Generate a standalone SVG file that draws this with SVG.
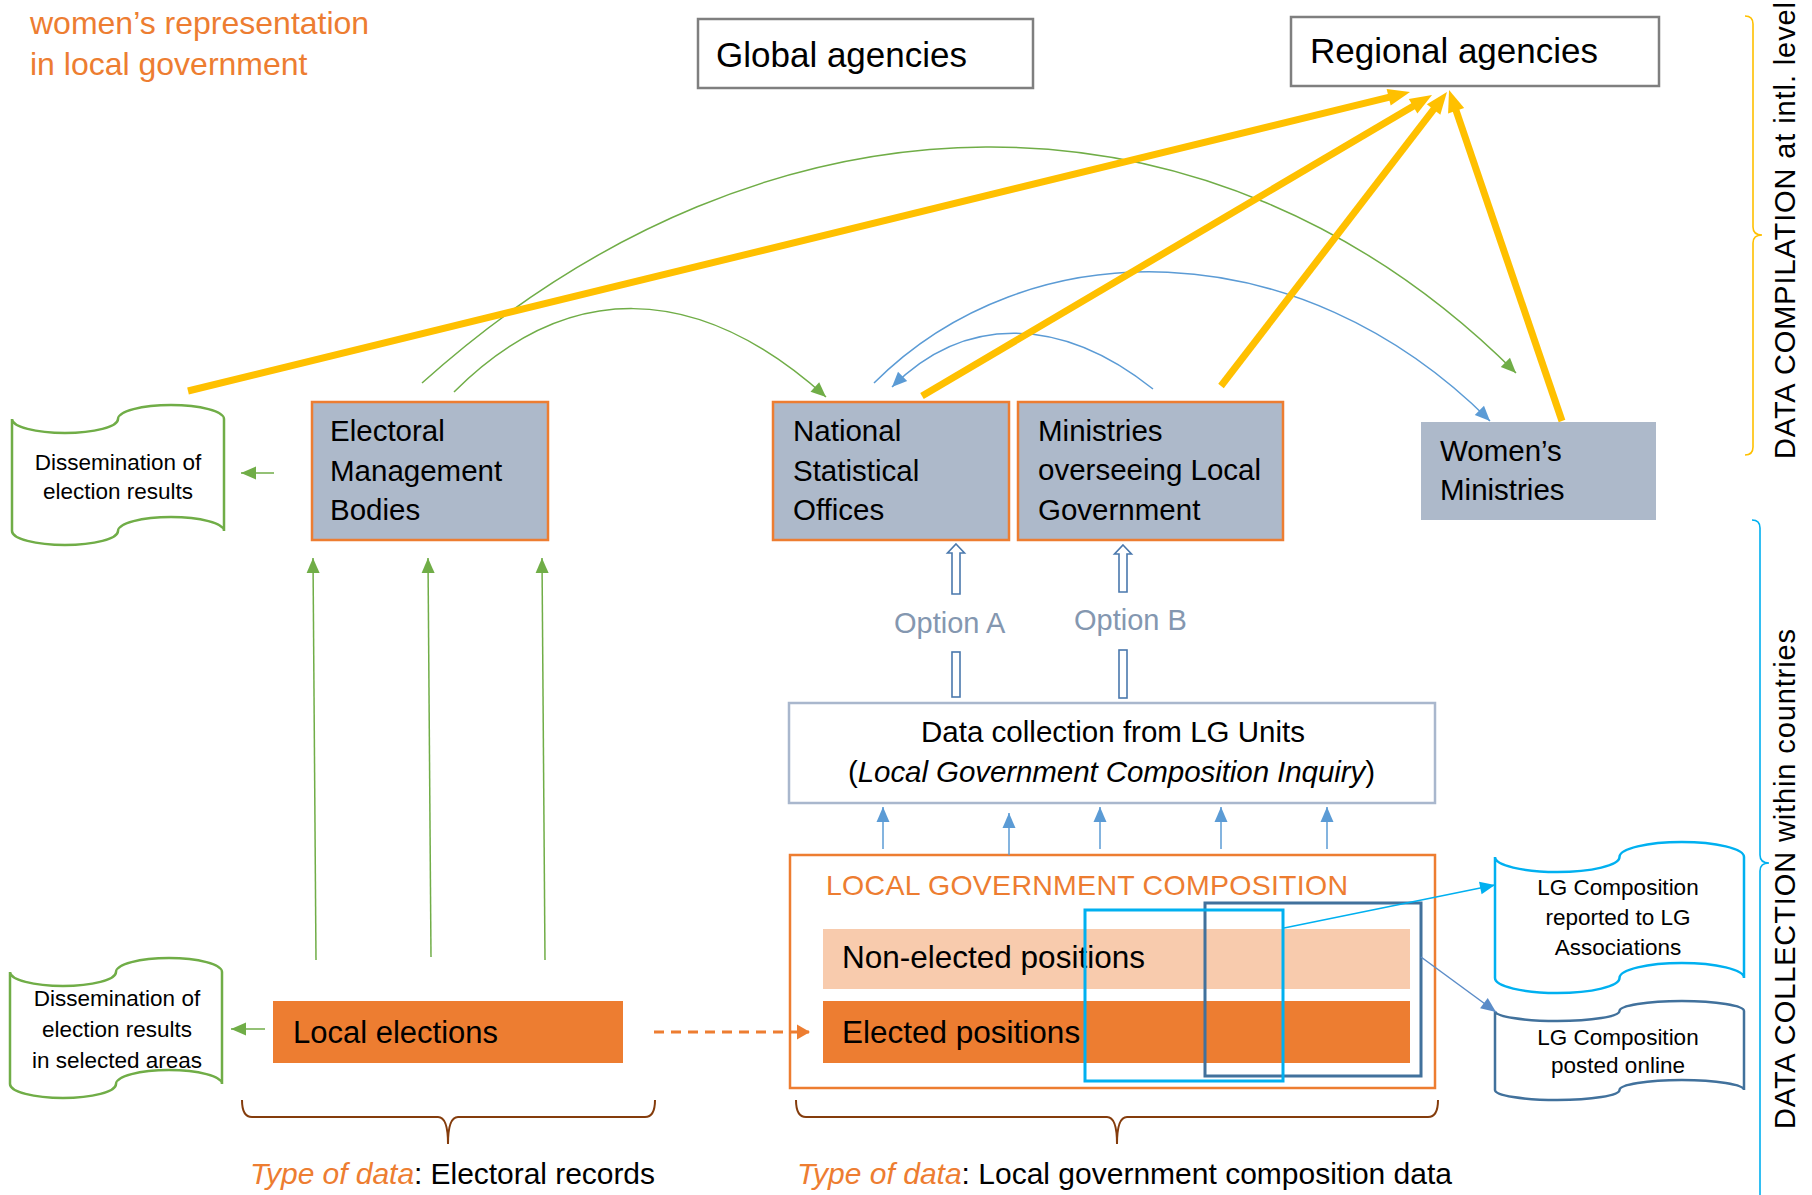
<svg xmlns="http://www.w3.org/2000/svg" width="1812" height="1195" viewBox="0 0 1812 1195">
<style>
text{font-family:"Liberation Sans",Arial,sans-serif;fill:#000}
.org{fill:#ED7D31}
.box{fill:#ADB9CA;stroke:#ED7D31;stroke-width:2.5}
.agency{fill:#fff;stroke:#7F7F7F;stroke-width:2.5}
.bt{font-size:29.5px}
.doc{font-size:22.5px;text-anchor:middle}
.g{stroke:#70AD47;stroke-width:1.5;fill:none}
.b{stroke:#5B9BD5;stroke-width:1.5;fill:none}
.y{stroke:#FFC000;stroke-width:7;fill:none}
.dbl{fill:#fff;stroke:#4A78AD;stroke-width:1.6}
.brace{fill:none;stroke:#843C0C;stroke-width:2}
.opt{font-size:29px;fill:#8497B0}
</style>
<defs>
<marker id="mY" markerUnits="userSpaceOnUse" markerWidth="24" markerHeight="18" refX="2" refY="8.5" orient="auto" overflow="visible"><path d="M0,0 L22,8.5 L0,17 Z" fill="#FFC000"/></marker>
<marker id="mG" markerUnits="userSpaceOnUse" markerWidth="16" markerHeight="14" refX="15" refY="6.5" orient="auto" overflow="visible"><path d="M0,0 L15,6.5 L0,13 Z" fill="#70AD47"/></marker>
<marker id="mB" markerUnits="userSpaceOnUse" markerWidth="16" markerHeight="14" refX="15" refY="6.5" orient="auto" overflow="visible"><path d="M0,0 L15,6.5 L0,13 Z" fill="#5B9BD5"/></marker>
<marker id="mC" markerUnits="userSpaceOnUse" markerWidth="16" markerHeight="14" refX="15" refY="6.5" orient="auto" overflow="visible"><path d="M0,0 L15,6.5 L0,13 Z" fill="#00B0F0"/></marker>
<marker id="mD" markerUnits="userSpaceOnUse" markerWidth="16" markerHeight="14" refX="15" refY="6.5" orient="auto" overflow="visible"><path d="M0,0 L15,6.5 L0,13 Z" fill="#5B8CC8"/></marker>
<marker id="mO" markerUnits="userSpaceOnUse" markerWidth="14" markerHeight="16" refX="12" refY="7.5" orient="auto" overflow="visible"><path d="M0,0 L13,7.5 L0,15 Z" fill="#ED7D31"/></marker>
</defs>

<g id="title">
<text class="org" x="30" y="34" font-size="32">women’s representation</text>
<text class="org" x="30" y="75" font-size="32">in local government</text>
</g>

<g id="global-agencies">
<rect class="agency" x="698" y="19" width="335" height="69"/>
<text x="716" y="67" font-size="35">Global agencies</text>
</g>
<g id="regional-agencies">
<rect class="agency" x="1291" y="17" width="368" height="69"/>
<text x="1310" y="63" font-size="35">Regional agencies</text>
</g>

<g id="option-labels">
<text class="opt" x="894" y="633">Option A</text>
<text class="opt" x="1074" y="630">Option B</text>
</g>

<g id="dissemination-top">
<path d="M12,419 A53,14 0 0 0 118,419 A53,14 0 0 1 224,419 L224,531 A53,14 0 0 0 118,531 A53,14 0 0 1 12,531 Z" fill="#fff" stroke="#70AD47" stroke-width="2.5"/>
<text class="doc" x="118" y="470">Dissemination of</text>
<text class="doc" x="118" y="499">election results</text>
</g>

<g id="electoral-management-bodies">
<rect class="box" x="312" y="402" width="236" height="138"/>
<text class="bt" x="330" y="441">Electoral</text>
<text class="bt" x="330" y="481">Management</text>
<text class="bt" x="330" y="520">Bodies</text>
</g>

<g id="national-statistical-offices">
<rect class="box" x="773" y="402" width="236" height="138"/>
<text class="bt" x="793" y="441">National</text>
<text class="bt" x="793" y="481">Statistical</text>
<text class="bt" x="793" y="520">Offices</text>
</g>

<g id="ministries-local-government">
<rect class="box" x="1018" y="402" width="265" height="138"/>
<text class="bt" x="1038" y="441">Ministries</text>
<text class="bt" x="1038" y="480">overseeing Local</text>
<text class="bt" x="1038" y="520">Government</text>
</g>

<g id="womens-ministries">
<rect x="1421" y="422" width="235" height="98" fill="#ADB9CA"/>
<text class="bt" x="1440" y="461">Women’s</text>
<text class="bt" x="1440" y="500">Ministries</text>
</g>

<g id="data-collection">
<rect x="789" y="703" width="646" height="100" fill="#fff" stroke="#A9B7CD" stroke-width="2.5"/>
<text x="921" y="742" font-size="29.5" textLength="384">Data collection from LG Units</text>
<text x="848" y="782" font-size="29.5" textLength="527">(<tspan font-style="italic">Local Government Composition Inquiry</tspan>)</text>
</g>

<g id="local-government-composition">
<rect x="790" y="855" width="645" height="233" fill="#fff" stroke="#ED7D31" stroke-width="2.5"/>
<text class="org" x="826" y="895" font-size="28.5" textLength="522">LOCAL GOVERNMENT COMPOSITION</text>
<rect x="823" y="929" width="587" height="60" fill="#F8CBAD"/>
<text x="842" y="968" font-size="31.5">Non-elected positions</text>
<rect x="823" y="1001" width="587" height="62" fill="#ED7D31"/>
<text x="842" y="1043" font-size="31.5">Elected positions</text>
<rect x="1205" y="903" width="216" height="173" fill="none" stroke="#41719C" stroke-width="3"/>
<rect x="1085" y="910" width="198" height="171" fill="none" stroke="#00B0F0" stroke-width="3"/>
</g>

<g id="local-elections">
<rect x="273" y="1001" width="350" height="62" fill="#ED7D31"/>
<text x="293" y="1043" font-size="31">Local elections</text>
</g>

<g id="dissemination-selected">
<path d="M10,972 A53,14 0 0 0 116,972 A53,14 0 0 1 222,972 L222,1084 A53,14 0 0 0 116,1084 A53,14 0 0 1 10,1084 Z" fill="#fff" stroke="#70AD47" stroke-width="2.5"/>
<text class="doc" x="117" y="1006">Dissemination of</text>
<text class="doc" x="117" y="1037">election results</text>
<text class="doc" x="117" y="1068">in selected areas</text>
</g>

<g id="lg-reported">
<path d="M1495,857 A62.25,15 0 0 0 1619.5,857 A62.25,15 0 0 1 1744,857 L1744,978 A62.25,15 0 0 0 1619.5,978 A62.25,15 0 0 1 1495,978 Z" fill="#fff" stroke="#00B0F0" stroke-width="2.5"/>
<text class="doc" x="1618" y="895">LG Composition</text>
<text class="doc" x="1618" y="925">reported to LG</text>
<text class="doc" x="1618" y="955">Associations</text>
</g>

<g id="lg-online">
<path d="M1495,1011 A62.25,10 0 0 0 1619.5,1011 A62.25,10 0 0 1 1744,1011 L1744,1090 A62.25,10 0 0 0 1619.5,1090 A62.25,10 0 0 1 1495,1090 Z" fill="#fff" stroke="#41719C" stroke-width="2.5"/>
<text class="doc" x="1618" y="1045">LG Composition</text>
<text class="doc" x="1618" y="1073">posted online</text>
</g>

<g id="data-type-labels">
<path class="brace" d="M242,1100 Q242,1117 252,1117 L438,1117 Q448,1117 448,1144 Q448,1117 458,1117 L645,1117 Q655,1117 655,1100"/>
<path class="brace" d="M796,1100 Q796,1117 806,1117 L1107,1117 Q1117,1117 1117,1144 Q1117,1117 1127,1117 L1428,1117 Q1438,1117 1438,1100"/>
<text x="250" y="1184" font-size="30" textLength="405"><tspan class="org" font-style="italic">Type of data</tspan>:  Electoral records</text>
<text x="797" y="1184" font-size="30" textLength="655"><tspan class="org" font-style="italic">Type of data</tspan>:  Local government composition data</text>
</g>

<g id="level-labels">
<path d="M1745,16 Q1753,16 1753,24 L1753,227 Q1753,235 1762,235 Q1753,235 1753,243 L1753,447 Q1753,455 1745,455" fill="none" stroke="#FFC000" stroke-width="1.6"/>
<path d="M1752,520 Q1760,520 1760,528 L1760,855 Q1760,863 1769,863 Q1760,863 1760,871 L1760,1200" fill="none" stroke="#00B0F0" stroke-width="1.6"/>
<text transform="translate(1795,459) rotate(-90)" font-size="29" textLength="457">DATA COMPILATION at intl. level</text>
<text transform="translate(1795,1129) rotate(-90)" font-size="29" textLength="500">DATA COLLECTION  within countries</text>
</g>

<g id="connectors">
<path class="g" d="M422,383 C770,70 1213,70 1516,373" marker-end="url(#mG)"/>
<path class="g" d="M454,392 C566,280 696,280 826,397" marker-end="url(#mG)"/>
<path class="b" d="M874,383 C1028,229 1298,229 1490,421" marker-end="url(#mB)"/>
<path class="b" d="M1153,389 C1060,315 964,315 892,387" marker-end="url(#mB)"/>
<line class="y" x1="188" y1="391" x2="1390.6" y2="96.8" marker-end="url(#mY)"/>
<line class="y" x1="922" y1="396" x2="1414.8" y2="105.2" marker-end="url(#mY)"/>
<line class="y" x1="1221" y1="386" x2="1434.8" y2="107.9" marker-end="url(#mY)"/>
<line class="y" x1="1562" y1="421" x2="1455.5" y2="108.9" marker-end="url(#mY)"/>
<line class="g" x1="274" y1="473" x2="241" y2="473" marker-end="url(#mG)"/>
<line class="g" x1="316" y1="960" x2="313" y2="558" marker-end="url(#mG)"/>
<line class="g" x1="431" y1="957" x2="428" y2="558" marker-end="url(#mG)"/>
<line class="g" x1="545" y1="960" x2="542" y2="558" marker-end="url(#mG)"/>
<line class="g" x1="265" y1="1029" x2="231" y2="1029" marker-end="url(#mG)"/>
<line x1="654" y1="1032" x2="809" y2="1032" stroke="#ED7D31" stroke-width="3" stroke-dasharray="10 7" marker-end="url(#mO)"/>
<line class="b" x1="883" y1="849" x2="883" y2="807" marker-end="url(#mB)"/>
<line class="b" x1="1009" y1="855" x2="1009" y2="813" marker-end="url(#mB)"/>
<line class="b" x1="1100" y1="849" x2="1100" y2="807" marker-end="url(#mB)"/>
<line class="b" x1="1221" y1="849" x2="1221" y2="807" marker-end="url(#mB)"/>
<line class="b" x1="1327" y1="849" x2="1327" y2="807" marker-end="url(#mB)"/>
<path class="dbl" d="M956,544 L964.5,553 L960,553 L960,594 L952,594 L952,553 L947.5,553 Z"/>
<rect class="dbl" x="952" y="652" width="8" height="45"/>
<path class="dbl" d="M1123,545 L1131.5,554 L1127,554 L1127,592 L1119,592 L1119,554 L1114.5,554 Z"/>
<rect class="dbl" x="1119" y="650" width="8" height="48"/>
<line x1="1284" y1="928" x2="1495" y2="885" stroke="#00B0F0" stroke-width="1.5" marker-end="url(#mC)"/>
<line x1="1421" y1="957" x2="1496" y2="1012" stroke="#5B8CC8" stroke-width="1.5" marker-end="url(#mD)"/>
</g>
</svg>
